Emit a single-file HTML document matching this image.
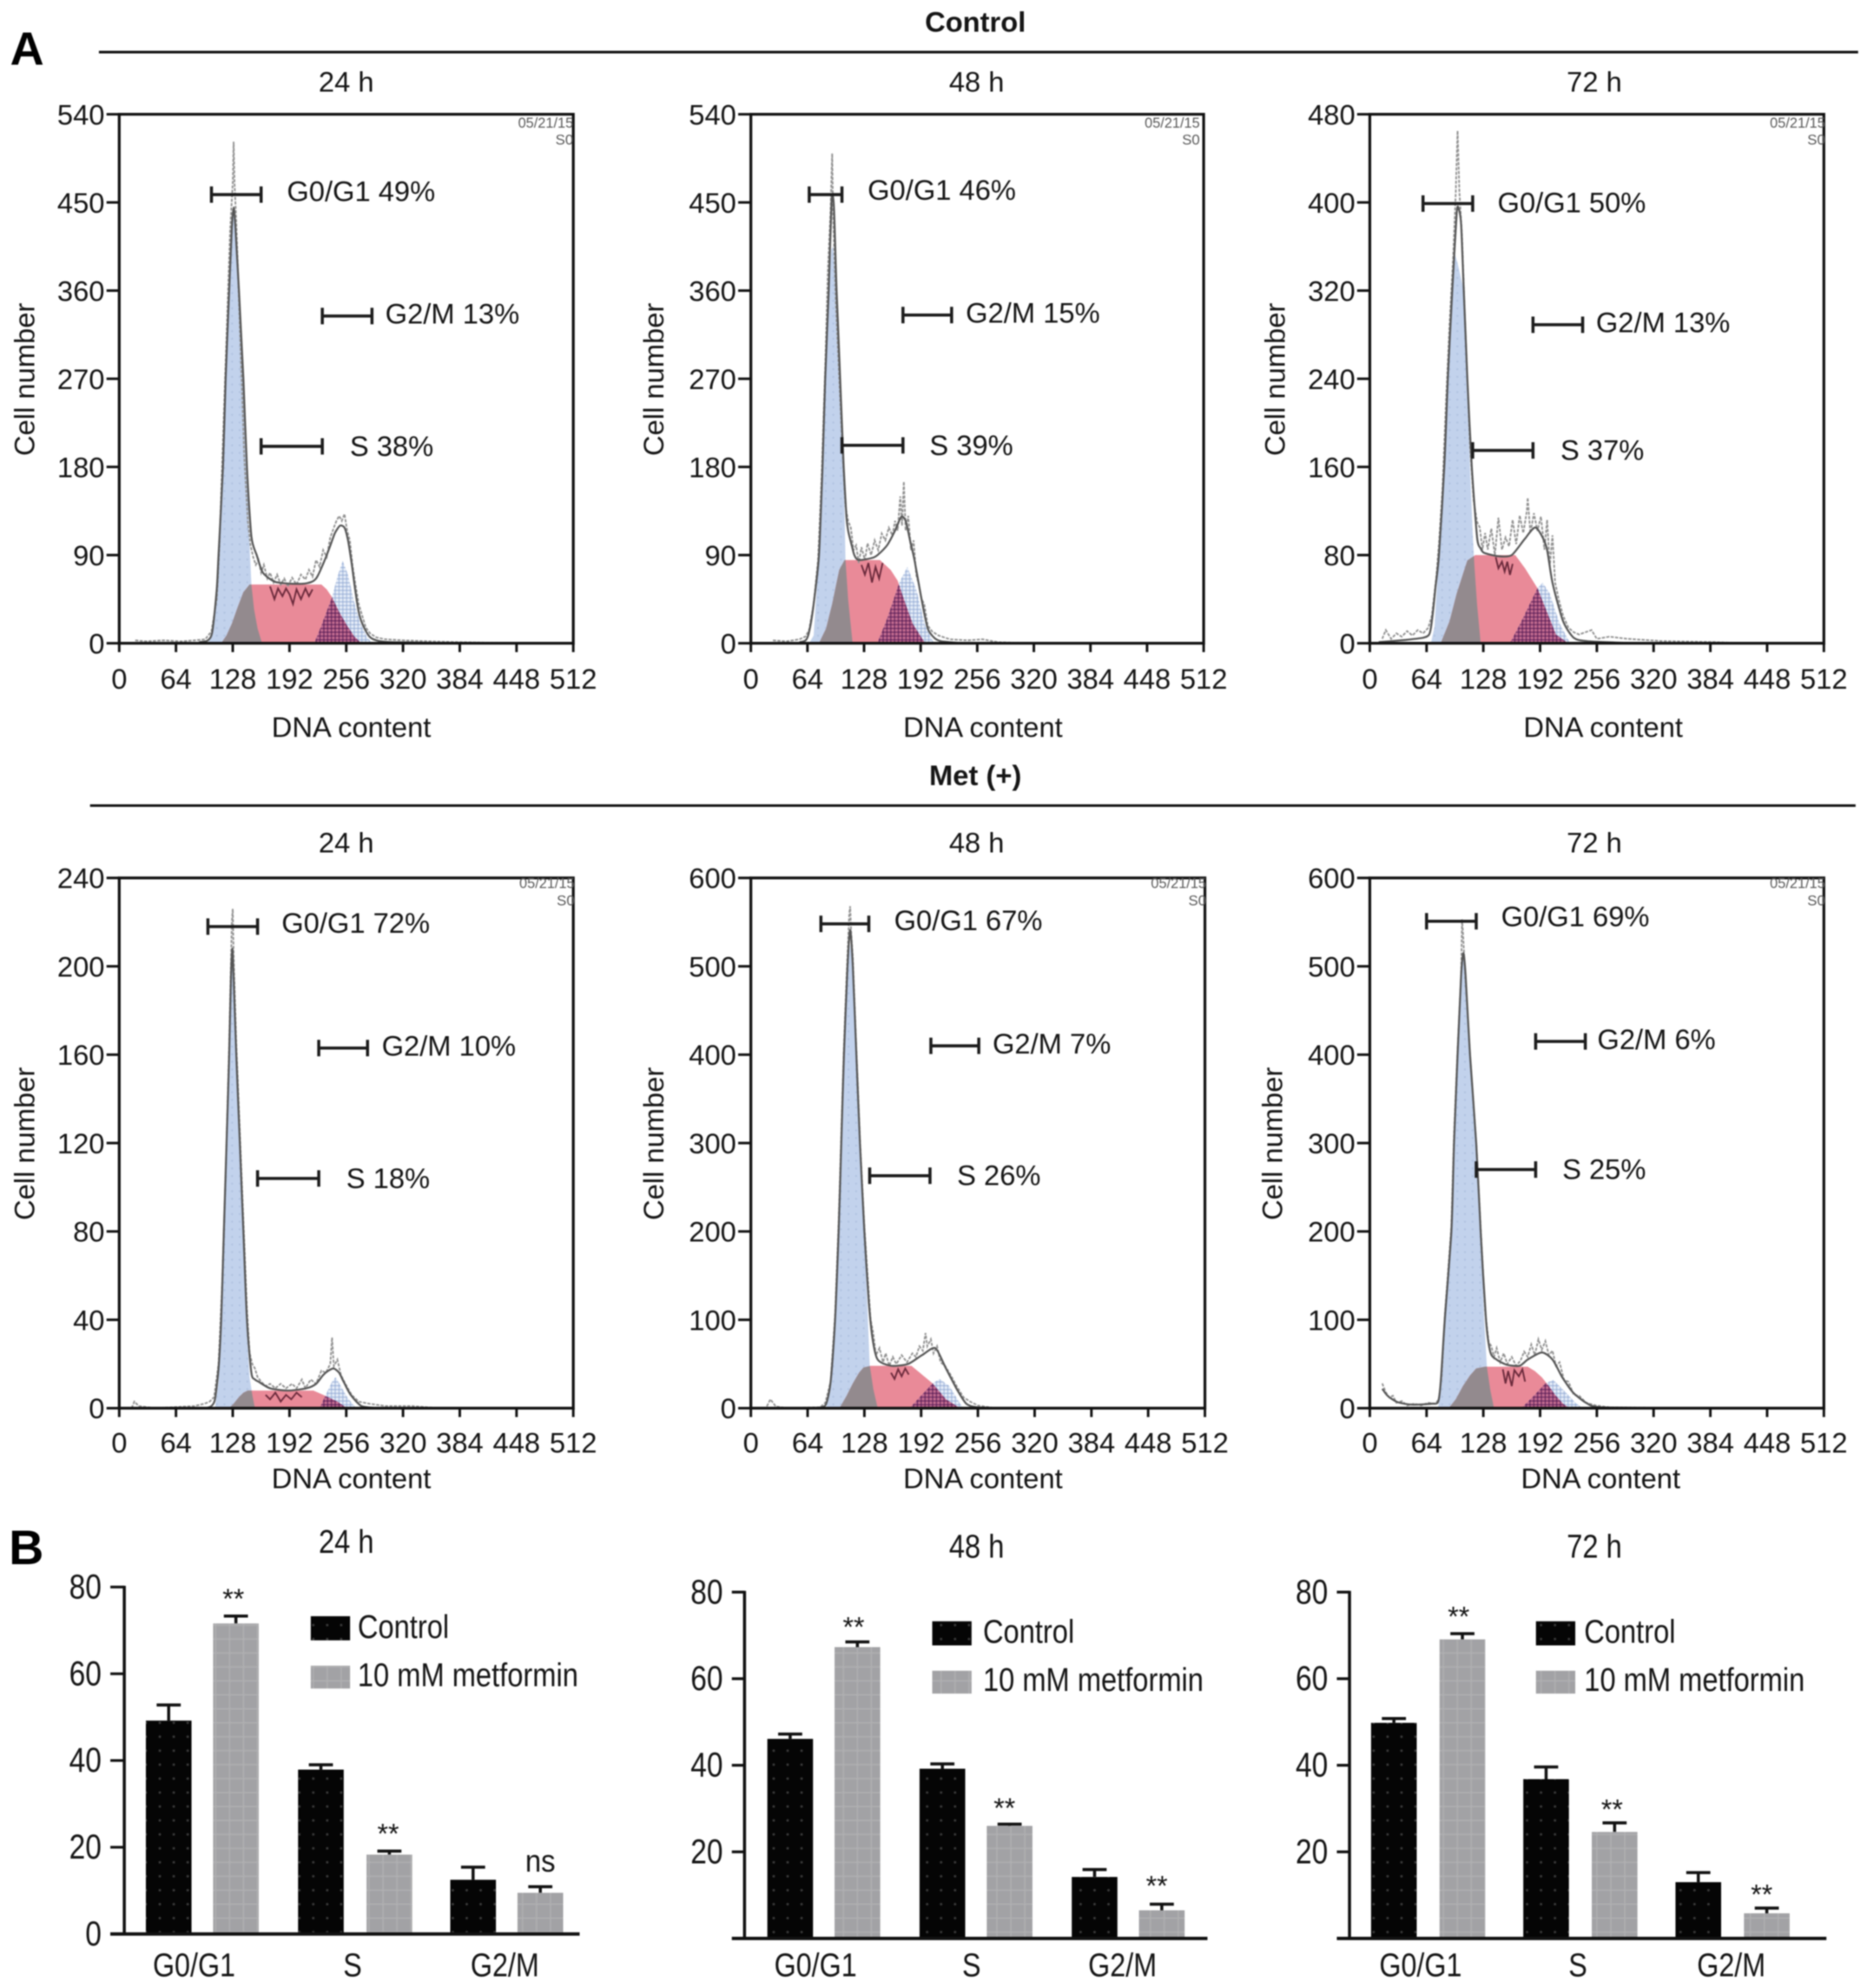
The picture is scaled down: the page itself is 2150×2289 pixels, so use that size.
<!DOCTYPE html>
<html lang="en">
<head>
<meta charset="utf-8">
<title>Cell cycle distribution</title>
<style>
html,body{margin:0;padding:0;background:#fff;}
svg{display:block;font-family:"Liberation Sans",sans-serif;filter:blur(0.75px);}
</style>
</head>
<body>
<svg id="fig" xmlns="http://www.w3.org/2000/svg" width="2150" height="2289" viewBox="0 0 1472 1567">
<defs>
<pattern id="g2Hatch" width="3" height="3" patternUnits="userSpaceOnUse"><rect width="3" height="3" fill="#e3ebf7"/><path d="M0 0H3M0 0V3" stroke="#8ea6d2" stroke-width="1.1"/></pattern>
<pattern id="g2Dark" width="3" height="3" patternUnits="userSpaceOnUse"><rect width="3" height="3" fill="#c06a8e"/><path d="M0 0H3M0 0V3" stroke="#4d1450" stroke-width="1.2"/></pattern>
<pattern id="blackTex" width="11" height="11" patternUnits="userSpaceOnUse"><rect width="11" height="11" fill="#050505"/><circle cx="5" cy="5" r="1" fill="#3a3a3a"/></pattern>
<pattern id="greyTex" width="11" height="11" patternUnits="userSpaceOnUse"><rect width="11" height="11" fill="#a2a2a5"/><path d="M5 0V11M0 5H11" stroke="#b0b0b2" stroke-width="1"/></pattern>
<pattern id="g1Tex" width="6" height="6" patternUnits="userSpaceOnUse"><rect width="6" height="6" fill="#c2d2ec"/><circle cx="3" cy="3" r=".8" fill="#b0c2e0"/></pattern>
</defs>
</svg>
<script>
/* ---------- shared axis values ---------- */
const dnaTicks = [0,64,128,192,256,320,384,448,512];
const barCategories = ['G0/G1','S','G2/M'];

/* ---------- Control 24 h ---------- */
const p1YTicks = [0,90,180,270,360,450,540];
const p1G1 = [[100,0],[106,12],[112,90],[117,180],[120,270],[124,360],[127,425],[129,445],[131,425],[135,360],[140,270],[144,180],[147,100],[149,60],[152,35],[156,15],[161,0]];
const p1S = [[115,0],[121,8],[127,20],[134,38],[140,52],[147,60],[228,60],[234,55],[240,47],[248,32],[257,18],[265,7],[273,0]];
const p1G2 = [[220,0],[228,18],[240,47],[246,68],[252,84],[258,70],[265,42],[272,20],[279,7],[285,0]];
const p1Fit = [[90,1],[100,3],[105,12],[110,55],[112,90],[117,180],[120,270],[124,360],[127,425],[129,445],[131,425],[135,360],[140,270],[144,180],[149,109],[155,90],[162,72],[175,63],[190,61],[210,61],[222,66],[234,90],[243,112],[249,120],[254,118],[258,105],[262,82],[266,55],[270,32],[275,18],[282,7],[290,3],[310,1],[420,0]];
const p1Raw = [[18,3],[30,2],[50,3],[70,2],[85,3],[97,4],[104,12],[110,45],[113,100],[116,180],[119,260],[122,340],[125,420],[128,470],[129,512],[130,470],[132,430],[135,350],[138,270],[141,190],[145,125],[148,100],[151,88],[154,80],[157,85],[160,72],[163,80],[167,66],[170,72],[174,62],[178,70],[182,60],[186,66],[190,58],[195,67],[200,60],[205,70],[210,65],[214,75],[218,68],[222,85],[226,78],[230,95],[234,88],[238,108],[242,118],[245,125],[248,130],[251,125],[254,132],[257,115],[260,105],[263,80],[266,62],[270,40],[274,28],[278,16],[283,10],[290,6],[300,4],[320,3],[350,2],[390,1],[450,0]];
const p1Low = [[170,58],[175,45],[179,56],[184,48],[188,56],[192,50],[196,40],[200,55],[205,45],[210,56],[214,48],[218,55]];
const p1GateNames = ['G0/G1 49%','G2/M 13%','S 38%'];
const p1GateFrom = [104,229,160];
const p1GateTo = [160,285,229];
const p1GateLevel = [458,334,201];
const p1GateLabelAt = [189,300,260];

/* ---------- Control 48 h ---------- */
const p2YTicks = [0,90,180,270,360,450,540];
const p2G1 = [[66,0],[71,8],[77,90],[81,180],[84,270],[88,360],[91,402],[93,405],[97,360],[101,270],[105,180],[107,85],[110,45],[115,0]];
const p2S = [[77,0],[85,15],[92,40],[100,75],[106,85],[146,85],[158,75],[166,64],[175,40],[183,20],[190,10],[197,0]];
const p2G2 = [[143,0],[154,25],[168,62],[177,78],[187,55],[197,18],[207,0]];
const p2Fit = [[55,1],[62,3],[66,12],[71,40],[77,90],[81,180],[84,270],[88,360],[91,445],[92,458],[94,445],[97,360],[101,270],[105,180],[108,130],[110,115],[114,100],[117,90],[122,85],[140,88],[154,100],[163,115],[170,129],[175,125],[180,105],[185,85],[193,45],[200,15],[208,5],[216,2],[240,0]];
const p2Raw = [[25,3],[40,2],[55,4],[62,7],[66,14],[71,40],[76,85],[80,170],[84,280],[87,380],[90,440],[92,500],[93,440],[96,350],[100,270],[104,190],[107,140],[110,125],[113,118],[116,95],[119,100],[122,82],[125,98],[129,85],[132,102],[136,90],[140,105],[144,95],[148,112],[152,105],[156,118],[160,110],[163,125],[166,115],[169,150],[171,120],[173,165],[175,115],[178,130],[181,95],[184,105],[187,70],[190,60],[193,45],[196,40],[200,18],[205,12],[212,8],[225,4],[245,3],[262,4],[280,1],[320,0]];
const p2Low = [[125,80],[129,70],[133,82],[137,62],[141,78],[145,66],[149,82]];
const p2GateNames = ['G0/G1 46%','G2/M 15%','S 39%'];
const p2GateFrom = [66,172,103];
const p2GateTo = [103,227,172];
const p2GateLevel = [458,335,202];
const p2GateLabelAt = [132,243,202];

/* ---------- Control 72 h ---------- */
const p3YTicks = [0,80,160,240,320,400,480];
const p3G1 = [[69,0],[73,15],[78,80],[84,160],[88,240],[93,320],[96,353],[99,345],[106,320],[110,240],[113,160],[116,100],[118,70],[121,35],[125,0]];
const p3S = [[80,0],[90,20],[98,45],[110,75],[119,80],[164,80],[175,68],[189,50],[199,30],[210,8],[224,0]];
const p3G2 = [[158,0],[171,20],[189,50],[195,55],[203,45],[214,18],[226,0]];
const p3Fit = [[10,1],[40,3],[60,5],[67,8],[70,20],[74,50],[78,80],[84,160],[88,240],[93,320],[98,390],[100,395],[103,380],[106,320],[110,240],[115,160],[121,96],[125,86],[129,82],[145,79],[160,80],[175,95],[187,105],[199,88],[206,55],[218,20],[230,5],[245,2],[300,0]];
const p3Raw = [[14,4],[18,12],[24,4],[30,9],[36,6],[42,11],[48,7],[54,12],[60,9],[66,14],[70,25],[75,60],[78,90],[82,140],[86,220],[90,290],[94,350],[97,410],[99,465],[101,410],[104,370],[107,300],[110,240],[113,180],[117,130],[121,110],[124,105],[127,85],[130,100],[133,85],[137,104],[141,80],[145,114],[149,85],[153,96],[157,88],[161,112],[165,90],[169,116],[173,100],[177,120],[178,132],[181,100],[185,118],[189,102],[193,115],[197,85],[200,112],[203,70],[206,98],[209,55],[213,40],[218,25],[224,14],[230,10],[236,8],[250,12],[256,4],[270,6],[290,4],[330,2],[390,1],[420,0]];
const p3Low = [[142,78],[145,68],[149,74],[152,65],[155,74],[158,62],[161,72]];
const p3GateNames = ['G0/G1 50%','G2/M 13%','S 37%'];
const p3GateFrom = [60,184,116];
const p3GateTo = [116,240,184];
const p3GateLevel = [399,289,175];
const p3GateLabelAt = [144,255,215];

/* ---------- Met(+) 24 h ---------- */
const p4YTicks = [0,40,80,120,160,200,240];
const p4G1 = [[108,0],[112,12],[115,40],[118,80],[121,120],[124,160],[127,205],[129,205],[132,160],[136,120],[139,80],[143,40],[147,14],[150,6],[153,0]];
const p4S = [[124,0],[129,2],[135,5],[140,7],[145,8],[219,8],[230,6],[246,3],[257,0]];
const p4G2 = [[226,0],[234,7],[240,12],[244,14],[250,10],[257,5],[267,0]];
const p4Fit = [[98,0],[104,1],[108,4],[112,18],[115,40],[118,80],[121,120],[124,160],[126,195],[127.5,208],[129,195],[132,160],[136,120],[140,80],[144,40],[149,16],[153,13],[157,12],[170,9],[190,8],[211,9],[222,11],[230,15],[236,17],[242,18],[248,16],[253,12],[261,6],[273,1],[290,0]];
const p4Raw = [[14,0],[17,3],[22,1],[40,0],[85,1],[96,2],[102,3],[107,5],[112,20],[116,55],[120,105],[124,165],[127,220],[128,226],[129,205],[132,165],[136,125],[140,85],[144,45],[147,25],[150,20],[153,18],[156,14],[160,12],[165,10],[170,11],[176,9],[182,11],[188,9],[195,11],[200,9],[206,13],[210,9],[216,13],[222,11],[228,17],[233,16],[238,20],[240,32],[242,19],[246,22],[250,15],[255,11],[262,6],[270,3],[282,2],[300,1],[330,1],[360,0]];
const p4Low = [[165,6],[170,4],[176,7],[182,3],[188,6],[194,4],[200,7],[206,5]];
const p4GateNames = ['G0/G1 72%','G2/M 10%','S 18%'];
const p4GateFrom = [100,225,156];
const p4GateTo = [156,280,225];
const p4GateLevel = [218,163,104];
const p4GateLabelAt = [183,296,256];

/* ---------- Met(+) 48 h ---------- */
const p5YTicks = [0,100,200,300,400,500,600];
const p5G1 = [[85,0],[90,25],[95,100],[99,200],[102,300],[105,400],[109,500],[112,525],[115,500],[119,400],[123,300],[128,200],[132,100],[134,49],[138,22],[143,0]];
const p5S = [[100,0],[108,14],[115,28],[122,40],[127,46],[135,48],[181,48],[193,38],[205,28],[220,10],[236,0]];
const p5G2 = [[179,0],[193,15],[205,28],[213,33],[224,25],[236,5],[240,0]];
const p5Fit = [[70,0],[80,1],[85,5],[90,30],[95,100],[99,200],[102,300],[105,400],[109,500],[112,541],[115,500],[119,400],[123,300],[128,200],[133,120],[137,80],[143,55],[158,48],[177,50],[193,60],[208,68],[220,45],[232,22],[243,5],[255,1],[280,0]];
const p5Raw = [[18,2],[22,10],[28,2],[40,0],[78,1],[84,6],[90,30],[95,105],[99,210],[102,310],[105,410],[108,490],[111,560],[112,568],[113,540],[115,510],[119,405],[123,305],[128,205],[133,130],[135,100],[138,85],[141,60],[145,68],[149,52],[152,62],[156,48],[160,58],[164,50],[170,60],[176,52],[182,62],[186,58],[190,70],[194,65],[197,85],[199,70],[203,78],[206,62],[210,70],[214,52],[219,48],[225,38],[232,25],[240,12],[248,7],[256,3],[275,0]];
const p5Low = [[158,40],[162,33],[166,44],[170,36],[174,45],[178,38]];
const p5GateNames = ['G0/G1 67%','G2/M 7%','S 26%'];
const p5GateFrom = [79,203,134];
const p5GateTo = [133,257,202];
const p5GateLevel = [548,410,263];
const p5GateLabelAt = [161.5,272.5,232.5];

/* ---------- Met(+) 72 h ---------- */
const p6YTicks = [0,100,200,300,400,500,600];
const p6G1 = [[77,0],[80,25],[84.5,100],[92,200],[95,300],[99,400],[103,490],[105.5,510],[108,490],[113,400],[120,300],[125,200],[129,100],[132,47],[136,20],[140,0]];
const p6S = [[89,0],[97,10],[105,25],[113,37],[120,45],[130,47],[178,47],[186,42],[194,35],[202,25],[209,15],[218,5],[225,0]];
const p6G2 = [[171,0],[185,14],[198,28],[207,32],[221,18],[232,6],[240,0]];
const p6Fit = [[14,22],[20,14],[31,7],[47,4],[70,5],[77,7],[80,30],[84.5,100],[92,200],[95,300],[99,400],[103,490],[105.5,515],[108,490],[113,400],[120,300],[125,200],[131,100],[136,63],[143,55],[155,49],[169,48],[178,55],[194,63],[206,55],[217,35],[229,18],[244,6],[260,1],[340,0]];
const p6Raw = [[14,28],[18,18],[22,12],[26,14],[30,6],[36,8],[42,3],[50,5],[58,3],[66,6],[74,5],[78,10],[81,35],[85,110],[92,205],[95,310],[99,405],[103,490],[104,553],[105,540],[107,500],[110,450],[113,400],[120,300],[125,205],[130,110],[134,75],[137,70],[140,58],[143,68],[147,52],[151,62],[155,50],[160,58],[165,48],[170,54],[174,64],[178,58],[182,72],[186,60],[190,78],[194,66],[198,76],[202,60],[206,65],[210,48],[214,52],[219,32],[224,30],[230,15],[236,14],[244,6],[255,3],[270,1],[350,0]];
const p6Low = [[150,44],[153,28],[156,42],[160,25],[163,43],[168,36],[172,44],[175,30]];
const p6GateNames = ['G0/G1 69%','G2/M 6%','S 25%'];
const p6GateFrom = [64,187,120];
const p6GateTo = [120,243,187];
const p6GateLevel = [551,415,270];
const p6GateLabelAt = [148,256.5,217];

/* ---------- Bar charts (B) ---------- */
const barTicks24 = [0,20,40,60,80];
const barTicks48 = [20,40,60,80];
const barTicks72 = [20,40,60,80];
const control24 = [49.2,37.9,12.5];
const metformin24 = [71.6,18.3,9.5];
const controlErr24 = [3.6,1.1,2.9];
const metforminErr24 = [1.7,0.8,1.4];
const marks24 = ['**','**','ns'];
const control48 = [46.1,39.2,14.2];
const metformin48 = [67.3,26,6.5];
const controlErr48 = [1.1,1.1,1.7];
const metforminErr48 = [1.2,0.4,1.4];
const marks48 = ['**','**','**'];
const control72 = [49.8,36.8,13];
const metformin72 = [69.1,24.6,5.8];
const controlErr72 = [1,2.8,2.2];
const metforminErr72 = [1.3,2.1,1.2];
const marks72 = ['**','**','**'];

/* ---------- helpers ---------- */
const svg = document.getElementById('fig');
const NS = 'http://www.w3.org/2000/svg';
function mk(tag, attrs, parent){
  const el = document.createElementNS(NS, tag);
  for (const k in attrs) el.setAttribute(k, attrs[k]);
  (parent || svg).appendChild(el);
  return el;
}
function txt(parent, x, y, str, o){
  o = o || {};
  const a = {'font-size': o.size || 22.4, 'text-anchor': o.anchor || 'start', fill: o.fill || '#151515'};
  if (o.weight) a['font-weight'] = o.weight;
  a.transform = 'translate(' + x + ',' + y + ')' + (o.rot ? ' rotate(' + o.rot + ')' : '') + (o.sx ? ' scale(' + o.sx + ',1)' : '');
  const t = mk('text', a, parent);
  t.textContent = str;
  return t;
}
function pts(series, sx, sy){ return series.map(function(p){ return sx(p[0]).toFixed(1) + ',' + sy(p[1]).toFixed(1); }).join(' '); }
function smooth(series, sx, sy){
  const P = series.map(function(p){ return [sx(p[0]), sy(p[1])]; });
  let d = 'M' + P[0][0].toFixed(1) + ' ' + P[0][1].toFixed(1);
  for (let i = 0; i < P.length - 1; i++){
    const a = P[Math.max(i - 1, 0)], b = P[i], c = P[i + 1], e = P[Math.min(i + 2, P.length - 1)];
    const k = 0.12;
    d += 'C' + (b[0] + (c[0] - a[0]) * k).toFixed(1) + ' ' + (b[1] + (c[1] - a[1]) * k).toFixed(1) + ' ' + (c[0] - (e[0] - b[0]) * k).toFixed(1) + ' ' + (c[1] - (e[1] - b[1]) * k).toFixed(1) + ' ' + c[0].toFixed(1) + ' ' + c[1].toFixed(1);
  }
  return d;
}

/* ---------- static headings ---------- */
function heading(x, y, str, o, name){
  const t = txt(svg, x, y, str, o);
  
  
}
function rule(x1, x2, y, name){
  const l = mk('line', {x1:x1, x2:x2, y1:y, y2:y, stroke:'#111', 'stroke-width':2});
  
  
}
heading(8, 51, 'A', {size:37, weight:'bold', fill:'#000'}, 'panel-a-label');
heading(7, 1233, 'B', {size:38, weight:'bold', fill:'#000'}, 'panel-b-label');
heading(769, 25, 'Control', {weight:'bold', anchor:'middle'}, 'control-section-title');
heading(769, 619, 'Met (+)', {weight:'bold', anchor:'middle'}, 'metformin-section-title');
rule(78, 1465, 41, 'control-section-rule');
rule(71, 1463, 635, 'metformin-section-rule');

/* ---------- flow cytometry histogram ---------- */
function histogram(c){
  const g = mk('g', {});
  
  
  const sx = function(v){ return c.x0 + v / 512 * (c.x1 - c.x0); };
  const ymax = c.yTicks[c.yTicks.length - 1];
  const sy = function(v){ return c.y0 - v / ymax * (c.y0 - c.yTop); };

  const clipG1 = c.id + '-clip-g1', clipS = c.id + '-clip-s';
  const defs = mk('defs', {}, g);
  const cp1 = mk('clipPath', {id: clipG1}, defs);
  mk('polygon', {points: pts(c.g1, sx, sy)}, cp1);
  const cp2 = mk('clipPath', {id: clipS}, defs);
  mk('polygon', {points: pts(c.s, sx, sy)}, cp2);

  const a1 = mk('polygon', {points: pts(c.g1, sx, sy), fill: 'url(#g1Tex)'}, g);
  
  
  const a2 = mk('polygon', {points: pts(c.s, sx, sy), fill: '#e98a98'}, g);
  
  
  const a3 = mk('polygon', {points: pts(c.s, sx, sy), fill: '#938a8e', 'clip-path': 'url(#' + clipG1 + ')'}, g);
  
  
  const a4 = mk('polygon', {points: pts(c.g2, sx, sy), fill: 'url(#g2Hatch)'}, g);
  
  
  const a5 = mk('polygon', {points: pts(c.g2, sx, sy), fill: 'url(#g2Dark)', 'clip-path': 'url(#' + clipS + ')'}, g);
  
  

  const raw = mk('polyline', {points: pts(c.raw, sx, sy), fill: 'none', stroke: '#929292', 'stroke-width': 1.3, 'stroke-dasharray': '2.5 1'}, g);
  
  
  const low = mk('polyline', {points: pts(c.low, sx, sy), fill: 'none', stroke: '#6b2a3c', 'stroke-width': 1.3}, g);
  
  
  const fit = mk('path', {d: smooth(c.fit, sx, sy), fill: 'none', stroke: '#555', 'stroke-width': 1.5}, g);
  
  

  /* frame */
  const frame = mk('rect', {x: c.x0, y: c.yTop, width: c.x1 - c.x0, height: c.y0 - c.yTop, fill: 'none', stroke: '#111', 'stroke-width': 2.2}, g);
  
  

  /* y axis */
  c.yTicks.forEach(function(v){
    const tk = mk('line', {x1: c.x0 - 10, x2: c.x0, y1: sy(v), y2: sy(v), stroke: '#111', 'stroke-width': 2}, g);
    
    
    const lb = txt(g, c.x0 - 11.5, sy(v) + 8, String(v), {anchor: 'end'});
    
    
  });
  /* x axis */
  dnaTicks.forEach(function(v){
    const tk = mk('line', {x1: sx(v), x2: sx(v), y1: c.y0, y2: c.y0 + 7, stroke: '#111', 'stroke-width': 2}, g);
    
    
    const lb = txt(g, sx(v), c.y0 + c.tickDrop, String(v), {anchor: 'middle'});
    
    
  });
  const xt = txt(g, c.xLabelX, c.xLabelY, 'DNA content', {anchor: 'middle'});
  
  
  const yt = txt(g, c.yLabelX, (c.y0 + c.yTop) / 2 + 0.5, 'Cell number', {anchor: 'middle', rot: -90});
  
  
  const ti = txt(g, c.titleX, c.titleY, c.title, {anchor: 'middle'});
  
  

  /* timestamp */
  const d1 = txt(g, c.x1 + c.stampShift, c.yTop + c.stampDrop, '05/21/15', {size: 11.2, anchor: 'end', fill: '#5a5a5a'});
  
  
  const d2 = txt(g, c.x1 + c.stampShift, c.yTop + c.stampDrop + 13.5, 'S0', {size: 11.5, anchor: 'end', fill: '#5a5a5a'});
  
  

  /* gates */
  const labelNudge = [c.g1Nudge, 6, 7.5];
  c.gateNames.forEach(function(name, i){
    const yy = sy(c.gateLevel[i]), a = sx(c.gateFrom[i]), b = sx(c.gateTo[i]);
    const gate = mk('path', {d: 'M' + a + ' ' + (yy - 6.5) + 'V' + (yy + 6.5) + 'M' + a + ' ' + yy + 'H' + b + 'M' + b + ' ' + (yy - 6.5) + 'V' + (yy + 6.5), fill: 'none', stroke: '#1c1c1c', 'stroke-width': 2.4}, g);
    
    
    const lb = txt(g, sx(c.gateLabelAt[i]), yy + labelNudge[i], name, {});
    
    
  });
}

histogram({id:'histogram-control-24h', title:'24 h', x0:94, x1:452, y0:507, yTop:90, yTicks:p1YTicks, g1:p1G1, s:p1S, g2:p1G2, fit:p1Fit, raw:p1Raw, low:p1Low, gateNames:p1GateNames, gateFrom:p1GateFrom, gateTo:p1GateTo, gateLevel:p1GateLevel, gateLabelAt:p1GateLabelAt, tickDrop:36, xLabelX:277, xLabelY:581, yLabelX:27, titleX:273, titleY:72, stampShift:0, stampDrop:10.5, g1Nudge:5});
histogram({id:'histogram-control-48h', title:'48 h', x0:592, x1:949, y0:507, yTop:90, yTicks:p2YTicks, g1:p2G1, s:p2S, g2:p2G2, fit:p2Fit, raw:p2Raw, low:p2Low, gateNames:p2GateNames, gateFrom:p2GateFrom, gateTo:p2GateTo, gateLevel:p2GateLevel, gateLabelAt:p2GateLabelAt, tickDrop:36, xLabelX:775, xLabelY:581, yLabelX:523, titleX:770, titleY:72, stampShift:-3, stampDrop:10.5, g1Nudge:4});
histogram({id:'histogram-control-72h', title:'72 h', x0:1080, x1:1438, y0:507, yTop:90, yTicks:p3YTicks, g1:p3G1, s:p3S, g2:p3G2, fit:p3Fit, raw:p3Raw, low:p3Low, gateNames:p3GateNames, gateFrom:p3GateFrom, gateTo:p3GateTo, gateLevel:p3GateLevel, gateLabelAt:p3GateLabelAt, tickDrop:36, xLabelX:1264, xLabelY:581, yLabelX:1013, titleX:1257, titleY:72, stampShift:1, stampDrop:10.5, g1Nudge:7});
histogram({id:'histogram-metformin-24h', title:'24 h', x0:94, x1:452, y0:1110, yTop:692, yTicks:p4YTicks, g1:p4G1, s:p4S, g2:p4G2, fit:p4Fit, raw:p4Raw, low:p4Low, gateNames:p4GateNames, gateFrom:p4GateFrom, gateTo:p4GateTo, gateLevel:p4GateLevel, gateLabelAt:p4GateLabelAt, tickDrop:35, xLabelX:277, xLabelY:1173, yLabelX:27, titleX:273, titleY:672, stampShift:1, stampDrop:8, g1Nudge:5});
histogram({id:'histogram-metformin-48h', title:'48 h', x0:592, x1:950, y0:1110, yTop:692, yTicks:p5YTicks, g1:p5G1, s:p5S, g2:p5G2, fit:p5Fit, raw:p5Raw, low:p5Low, gateNames:p5GateNames, gateFrom:p5GateFrom, gateTo:p5GateTo, gateLevel:p5GateLevel, gateLabelAt:p5GateLabelAt, tickDrop:35, xLabelX:775, xLabelY:1173, yLabelX:523, titleX:770, titleY:672, stampShift:1, stampDrop:8, g1Nudge:5});
histogram({id:'histogram-metformin-72h', title:'72 h', x0:1080, x1:1438, y0:1110, yTop:692, yTicks:p6YTicks, g1:p6G1, s:p6S, g2:p6G2, fit:p6Fit, raw:p6Raw, low:p6Low, gateNames:p6GateNames, gateFrom:p6GateFrom, gateTo:p6GateTo, gateLevel:p6GateLevel, gateLabelAt:p6GateLabelAt, tickDrop:35, xLabelX:1262, xLabelY:1173, yLabelX:1011, titleX:1257, titleY:672, stampShift:1, stampDrop:8, g1Nudge:4});

/* ---------- bar charts ---------- */
function barChart(c){
  const g = mk('g', {});
  
  
  const sy = function(v){ return c.y0 - v / 80 * (c.y0 - c.y80); };
  const drawBar = function(x, v, e, fill, label){
    const top = sy(v);
    const stem = mk('path', {d: 'M' + (x + c.barW / 2) + ' ' + top + 'V' + sy(v + e) + 'M' + (x + c.barW / 2 - 9.5) + ' ' + sy(v + e) + 'H' + (x + c.barW / 2 + 9.5), stroke: '#111', 'stroke-width': 2.4, fill: 'none'}, g);
    
    
    const r = mk('rect', {x: x, y: top, width: c.barW, height: c.y0 - top, fill: fill}, g);
    
    
  };
  barCategories.forEach(function(cat, i){
    const key = cat.toLowerCase().replace('/', '-');
    drawBar(c.ctrlX[i], c.control[i], c.controlErr[i], 'url(#blackTex)', 'control-' + key);
    drawBar(c.metX[i], c.met[i], c.metErr[i], 'url(#greyTex)', 'metformin-' + key);
    const mark = c.marks[i];
    const topV = c.met[i] + c.metErr[i];
    const mx = c.metX[i] + c.barW / 2 + c.markShift[i];
    const my = sy(topV) - c.markGap[i];
    const m = txt(g, mx, my, mark, mark === '**' ? {size: 22, anchor: 'middle'} : {size: 25, anchor: 'middle', sx: .9});
    
    
    const lb = txt(g, c.catX[i], 1558, cat, {size: 26, anchor: 'middle', sx: .85});
    
    
  });
  const ya = mk('line', {x1: c.axisX, x2: c.axisX, y1: c.y80 - 1, y2: c.y0, stroke: '#111', 'stroke-width': 2.4}, g);
  
  
  const xa = mk('line', {x1: c.tickLeft, x2: c.xEnd, y1: c.y0, y2: c.y0, stroke: '#111', 'stroke-width': 2.6}, g);
  
  
  c.ticks.forEach(function(v){
    const t = mk('line', {x1: c.tickLeft, x2: c.axisX, y1: sy(v), y2: sy(v), stroke: '#111', 'stroke-width': 2.2}, g);
    
    
    const l = txt(g, c.tickLeft - 7, sy(v) + 9, String(v), {size: 27, anchor: 'end', sx: .85});
    
    
  });
  const ti = txt(g, c.titleX, c.titleY, c.title, {size: 26, anchor: 'middle', sx: .86});
  
  
  const s1 = mk('rect', {x: c.legX, y: c.legY1, width: 31, height: 19, fill: 'url(#blackTex)'}, g);
  
  
  const s2 = mk('rect', {x: c.legX, y: c.legY1 + 39, width: 31, height: 18, fill: 'url(#greyTex)'}, g);
  
  
  const l1 = txt(g, c.legX + c.legGap, c.legY1 + 17, 'Control', {size: 26, sx: .86});
  
  
  const l2 = txt(g, c.legX + c.legGap, c.legY1 + 55, '10 mM metformin', {size: 26, sx: .86});
  
  
}
barChart({id:'bar-chart-24h', title:'24 h', titleX:273, titleY:1224, y0:1524.5, y80:1251, axisX:98, tickLeft:87, xEnd:457, barW:36, ctrlX:[115,235,355], metX:[168,289,408], catX:[153,278,398], ticks:barTicks24, control:control24, met:metformin24, controlErr:controlErr24, metErr:metforminErr24, marks:marks24, markShift:[-2,-1,0], markGap:[6,6,12], legX:245, legY1:1274, legGap:37});
barChart({id:'bar-chart-48h', title:'48 h', titleX:770, titleY:1228, y0:1528, y80:1255, axisX:587, tickLeft:577, xEnd:952, barW:36, ctrlX:[605,725,845], metX:[658,778,898], catX:[643,766,885], ticks:barTicks48, control:control48, met:metformin48, controlErr:controlErr48, metErr:metforminErr48, marks:marks48, markShift:[-3,-4,-4], markGap:[4,5,7], legX:735, legY1:1278, legGap:40});
barChart({id:'bar-chart-72h', title:'72 h', titleX:1257, titleY:1228, y0:1528, y80:1255, axisX:1064, tickLeft:1054, xEnd:1440, barW:36, ctrlX:[1081,1201,1321], metX:[1135,1255,1375], catX:[1120,1244,1365], ticks:barTicks72, control:control72, met:metformin72, controlErr:controlErr72, metErr:metforminErr72, marks:marks72, markShift:[-3,-2,-4], markGap:[6,3,3], legX:1211, legY1:1278, legGap:38});
</script>
</body>
</html>
